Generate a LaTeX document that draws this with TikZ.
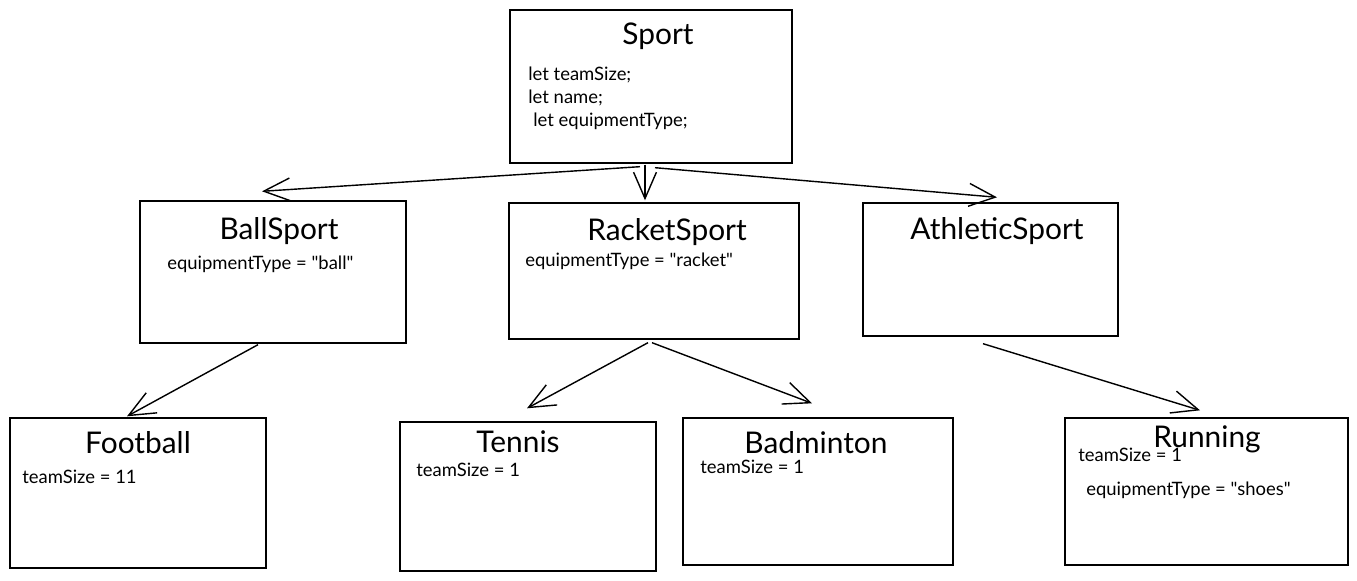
\documentclass[tikz,border=0pt]{standalone}
\usepackage{fontspec}
\setmainfont{Lato}[Ligatures=TeXOff]
\usetikzlibrary{arrows.meta}

\begin{document}
\begin{tikzpicture}[x=0.02cm, y=-0.02cm,
  box/.style={draw, rectangle, line width=0.8pt, inner sep=0pt},
  title/.style={anchor=base, inner sep=0pt, font=\fontsize{17}{20}\selectfont},
  attr/.style={anchor=base west, align=left, inner sep=0pt, font=\fontsize{10.5}{13.3}\selectfont},
  arr/.style={-{Straight Barb[length=15pt, width=13pt]}, line width=0.8pt}]
\useasboundingbox (0,0) rectangle (1357,581);
% classes
\node (sport) [box, minimum width=5.64cm, minimum height=3.06cm] at (651,86.5) {};
\node (ballsport) [box, minimum width=5.32cm, minimum height=2.84cm] at (273,272) {};
\node (racketsport) [box, minimum width=5.80cm, minimum height=2.72cm] at (654,271) {};
\node (athleticsport) [box, minimum width=5.10cm, minimum height=2.66cm] at (990.5,269.5) {};
\node (football) [box, minimum width=5.12cm, minimum height=3.00cm] at (138,493) {};
\node (tennis) [box, minimum width=5.12cm, minimum height=2.98cm] at (528,496.5) {};
\node (badminton) [box, minimum width=5.40cm, minimum height=2.94cm] at (818,491.5) {};
\node (running) [box, minimum width=5.66cm, minimum height=2.94cm] at (1206.5,491.5) {};
% titles
\node (sporttitle) [title] at (658,45) {Sport};
\node (ballsporttitle) [title] at (279,239) {BallSport};
\node (racketsporttitle) [title] at (667,240) {RacketSport};
\node (athleticsporttitle) [title] at (997,239) {AthleticSport};
\node (footballtitle) [title] at (138,453) {Football};
\node (tennistitle) [title] at (518,452) {Tennis};
\node (badmintontitle) [title] at (816,453) {Badminton};
\node (runningtitle) [title] at (1207,447) {Running};
% fields (base = last line)
\node (sportattr) [attr] at (528,127) {let teamSize;\\let name;\\\hspace{0.1cm}let equipmentType;};
\node (ballsportattr) [attr] at (167,270) {equipmentType = "ball"};
\node (racketsportattr) [attr] at (525,267) {equipmentType = "racket"};
\node (footballattr) [attr] at (22,483) {teamSize = 11};
\node (tennisattr) [attr] at (416,476) {teamSize = 1};
\node (badmintonattr) [attr] at (700,473) {teamSize = 1};
\node (runningattr) [attr] at (1078,495) {teamSize = 1\\[0.2cm]\hspace{0.16cm}equipmentType = "shoes"};
% inheritance
\draw[arr] ([shift={(-11,3)}]sport.south) -- ([shift={(-11,-9)}]ballsport.north);
\draw[arr] ([shift={(-6,1)}]sport.south) -- ([shift={(-9,-2)}]racketsport.north);
\draw[arr] ([shift={(4,4)}]sport.south) -- ([shift={(6.5,-5)}]athleticsport.north);
\draw[arr] ([shift={(-15,1)}]ballsport.south) -- ([shift={(-11,-1)}]football.north);
\draw[arr] ([shift={(-6,3)}]racketsport.south) -- ([shift={(-1,-13)}]tennis.north);
\draw[arr] ([shift={(-2,3)}]racketsport.south) -- ([shift={(-6,-14)}]badminton.north);
\draw[arr] ([shift={(-7.5,7)}]athleticsport.south) -- ([shift={(-6.5,-7)}]running.north);
\end{tikzpicture}
\end{document}
